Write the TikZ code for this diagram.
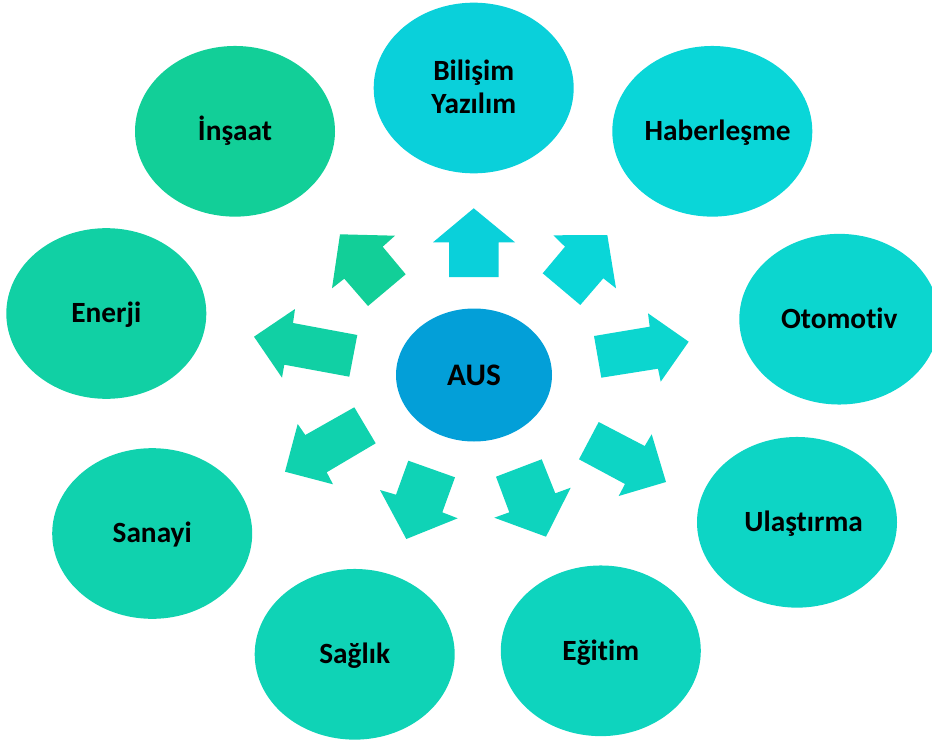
\documentclass[tikz,border=0pt]{standalone}
\usepackage{fontspec}
\setmainfont{Carlito}[Ligatures={NoCommon}]
\usetikzlibrary{shapes.geometric}
\definecolor{cBil}{HTML}{0AD0DA}
\definecolor{cHab}{HTML}{0AD6D8}
\definecolor{cOto}{HTML}{0CD6CF}
\definecolor{cUla}{HTML}{0DD5C5}
\definecolor{cEgi}{HTML}{0ED4BE}
\definecolor{cSag}{HTML}{0FD3B6}
\definecolor{cSan}{HTML}{10D2AE}
\definecolor{cEne}{HTML}{11D0A4}
\definecolor{cIns}{HTML}{12CF98}
\definecolor{cAus}{HTML}{039FD8}
\begin{document}
\begin{tikzpicture}[x=0.75pt,y=-0.75pt,
  blob/.style={ellipse, draw=none, inner sep=0pt, minimum width=150pt, minimum height=128pt},
  lbl/.style={font=\fontsize{22}{24.2}\selectfont\bfseries, inner sep=0pt, text=black, anchor=base},
  blockarrow/.style={draw=none}]
\useasboundingbox (0,0) rectangle (932,742);
\clip (0,0) rectangle (932,742);
% ellipses
\node[blob, fill=cBil] (bil) at (473.7,88) {};
\node[blob, fill=cHab] (hab) at (712.3,131.3) {};
\node[blob, fill=cOto] (oto) at (839.3,319.2) {};
\node[blob, fill=cUla] (ula) at (797,522.3) {};
\node[blob, fill=cEgi] (egi) at (600.8,650.8) {};
\node[blob, fill=cSag] (sag) at (354.7,654.3) {};
\node[blob, fill=cSan] (san) at (152.2,533.5) {};
\node[blob, fill=cEne] (ene) at (106.3,313.5) {};
\node[blob, fill=cIns] (ins) at (235,131.3) {};
\node[ellipse, draw=none, inner sep=0pt, minimum width=117pt, minimum height=99.75pt, fill=cAus] (aus) at (474,375) {};
% labels
\node[lbl] (tbil1) at ([yshift=5.25pt]bil.center) {Bilişim};
\node[lbl] (tbil2) at ([yshift=-19pt]bil.center) {Yazılım};
\node[lbl] (thab) at ([xshift=4pt,yshift=-7.1pt]hab.center) {Haberleşme};
\node[lbl] (toto) at ([yshift=-7.1pt]oto.center) {Otomotiv};
\node[lbl] (tula) at ([xshift=5pt,yshift=-7.1pt]ula.center) {Ulaştırma};
\node[lbl] (tegi) at ([yshift=-7.1pt]egi.center) {Eğitim};
\node[lbl] (tsag) at ([yshift=-7.1pt]sag.center) {Sağlık};
\node[lbl] (tsan) at ([yshift=-7.1pt]san.center) {Sanayi};
\node[lbl] (tene) at ([yshift=-7.1pt]ene.center) {Enerji};
\node[lbl] (tins) at ([yshift=-7.1pt]ins.center) {İnşaat};
\node[lbl, font=\fontsize{23.5}{26}\selectfont\bfseries] (taus) at ([yshift=-7.5pt]aus.center) {AUS};
% block arrows
\fill[blockarrow, fill=cBil] (449,277) -- (449,242.3) -- (433,242.3) -- (473.7,208.3) -- (515,242.3) -- (498.7,242.3) -- (498.7,277) -- cycle;
\fill[blockarrow, fill=cHab] (553.3,235.3) -- (607.3,235) -- (616,288.3) -- (603.3,278.3) -- (580.3,305) -- (542.7,273.3) -- (565,246.7) -- cycle;
\fill[blockarrow, fill=cOto] (594,336) -- (649.7,326.7) -- (648,313.3) -- (688.7,341.7) -- (660.7,381.7) -- (658,368.7) -- (601.3,377.7) -- cycle;
\fill[blockarrow, fill=cUla] (598.7,422) -- (644.7,446) -- (651.7,434.3) -- (666,482) -- (618.7,496) -- (625,484) -- (579,459.3) -- cycle;
\fill[blockarrow, fill=cEgi] (496,476.7) -- (541.7,459.3) -- (555.3,493.3) -- (570.7,487.7) -- (546,536.7) -- (494.3,517.7) -- (509.3,512.3) -- cycle;
\fill[blockarrow, fill=cSag] (408.3,460.7) -- (455,477.3) -- (442.3,512.3) -- (457.7,518.3) -- (406.3,539) -- (380,490) -- (396,494.7) -- cycle;
\fill[blockarrow, fill=cSan] (354.3,407.3) -- (375.7,443.3) -- (326.7,472.3) -- (333,484.3) -- (285,471.7) -- (297.7,424) -- (305.3,435) -- cycle;
\fill[blockarrow, fill=cEne] (254,336.7) -- (295,309) -- (293,323) -- (357.3,335) -- (349.3,376.7) -- (284.3,364.7) -- (282,377.7) -- cycle;
\fill[blockarrow, fill=cIns] (340,234.3) -- (395,235.7) -- (382.7,246.7) -- (405.7,274.3) -- (368,306) -- (344.3,278.7) -- (332,288.3) -- cycle;
\end{tikzpicture}
\end{document}
